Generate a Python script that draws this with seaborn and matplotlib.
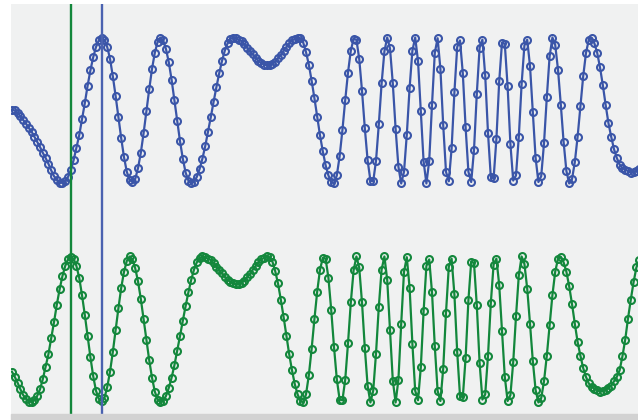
import matplotlib
matplotlib.use("Agg")
import matplotlib.pyplot as plt
import seaborn as sns
import pandas as pd
from matplotlib.patches import Rectangle

# underlying waveform (one sample per point); the two series are the same
# waveform, the lower one leading the upper one by `lag` samples
signal = [
    0.01, 0.00, -0.03, -0.08, -0.13, -0.18, -0.24, -0.29, -0.36, -0.43,
    -0.50, -0.58, -0.65, -0.73, -0.82, -0.90, -0.95, -0.99, -0.99, -0.97,
    -0.91, -0.82, -0.68, -0.51, -0.34, -0.12, 0.10, 0.34, 0.55, 0.73,
    0.87, 0.96, 0.99, 0.97, 0.87, 0.71, 0.47, 0.20, -0.09, -0.38,
    -0.64, -0.84, -0.95, -0.98, -0.94, -0.79, -0.58, -0.31, -0.01, 0.29,
    0.57, 0.79, 0.94, 1.00, 0.96, 0.84, 0.66, 0.42, 0.14, -0.15,
    -0.42, -0.66, -0.85, -0.96, -1.00, -0.98, -0.91, -0.80, -0.66, -0.49,
    -0.29, -0.09, 0.12, 0.32, 0.51, 0.68, 0.82, 0.92, 0.98, 1.00,
    0.99, 0.97, 0.95, 0.91, 0.86, 0.81, 0.77, 0.72, 0.68, 0.65,
    0.63, 0.62, 0.62, 0.64, 0.67, 0.72, 0.76, 0.82, 0.87, 0.92,
    0.96, 0.98, 1.00, 0.99, 0.93, 0.80, 0.63, 0.41, 0.17, -0.09,
    -0.34, -0.56, -0.75, -0.89, -0.98, -1.00, -0.89, -0.63, -0.27, 0.14,
    0.52, 0.82, 0.98, 0.97, 0.71, 0.27, -0.24, -0.68, -0.96, -0.97,
    -0.69, -0.19, 0.37, 0.81, 1.00, 0.85, 0.37, -0.25, -0.77, -1.00,
    -0.84, -0.33, 0.31, 0.82, 1.00, 0.68, -0.01, -0.70, -1.00, -0.69,
    0.08, 0.79, 0.99, 0.57, -0.20, -0.84, -0.97, -0.52, 0.25, 0.87,
    0.96, 0.51, -0.23, -0.84, -0.98, -0.54, 0.23, 0.86, 0.97, 0.48,
    -0.31, -0.91, -0.93, -0.39, 0.40, 0.93, 0.91, 0.33, -0.46, -0.96,
    -0.89, -0.36, 0.36, 0.89, 0.97, 0.61, -0.02, -0.65, -0.98, -0.90,
    -0.45, 0.18, 0.74, 1.00, 0.90, 0.56, 0.08, -0.43, -0.83, -1.00,
    -0.94, -0.71, -0.36, 0.06, 0.47, 0.79, 0.97, 0.99, 0.92, 0.79,
    0.59, 0.35, 0.08, -0.17, -0.36, -0.53, -0.65, -0.74, -0.79, -0.81,
    -0.83, -0.85, -0.84, -0.83, -0.80, -0.77, -0.71, -0.65, -0.56, -0.37,
    -0.14, 0.15, 0.41, 0.65, 0.85, 0.95,
]
lag = 11
n_points = 225
top_offset = 1.5
bottom_offset = -1.5
series_names = ["upper", "lower"]
series_colors = ["#3a55a8", "#13873c"]
cursor_positions = [21, 32]          # green cursor, blue cursor (sample index)
cursor_colors = ["#13873c", "#4a62b0"]

sample = list(range(n_points))
upper = [v + top_offset for v in signal[:n_points]]
lower = [v + bottom_offset for v in signal[lag:lag + n_points]]

df = pd.DataFrame({
    "sample": sample * 2,
    "value": upper + lower,
    "series": [series_names[0]] * n_points + [series_names[1]] * n_points,
})

W, H = 638, 420
fig = plt.figure(figsize=(W / 100, H / 100), dpi=100)
fig.patch.set_facecolor("white")
ax = fig.add_axes([11 / W, 6 / H, 627 / W, 410 / H])
ax.set_facecolor("#f0f1f1")

for name, col in zip(series_names, series_colors):
    sns.lineplot(data=df[df["series"] == name], x="sample", y="value",
                 ax=ax, color=col, linewidth=1.6, marker="o",
                 markersize=5.0, markerfacecolor="none",
                 markeredgecolor=col, markeredgewidth=1.5,
                 estimator=None, sort=False, legend=False)

for pos, col in zip(cursor_positions, cursor_colors):
    ax.axvline(pos, color=col, linewidth=1.7, zorder=5)

ax.set_xlim(-0.36, 223.57)
ax.set_ylim(-2.658, 2.959)
ax.set_xlabel("")
ax.set_ylabel("")
ax.set_xticks([])
ax.set_yticks([])
for s in ax.spines.values():
    s.set_visible(False)

# thin shaded strip under the panel
fig.patches.append(Rectangle((11 / W, 0), 627 / W, 6 / H,
                             transform=fig.transFigure, color="#d2d2d2",
                             zorder=0))

fig.savefig("out.png", dpi=100, facecolor="white")
